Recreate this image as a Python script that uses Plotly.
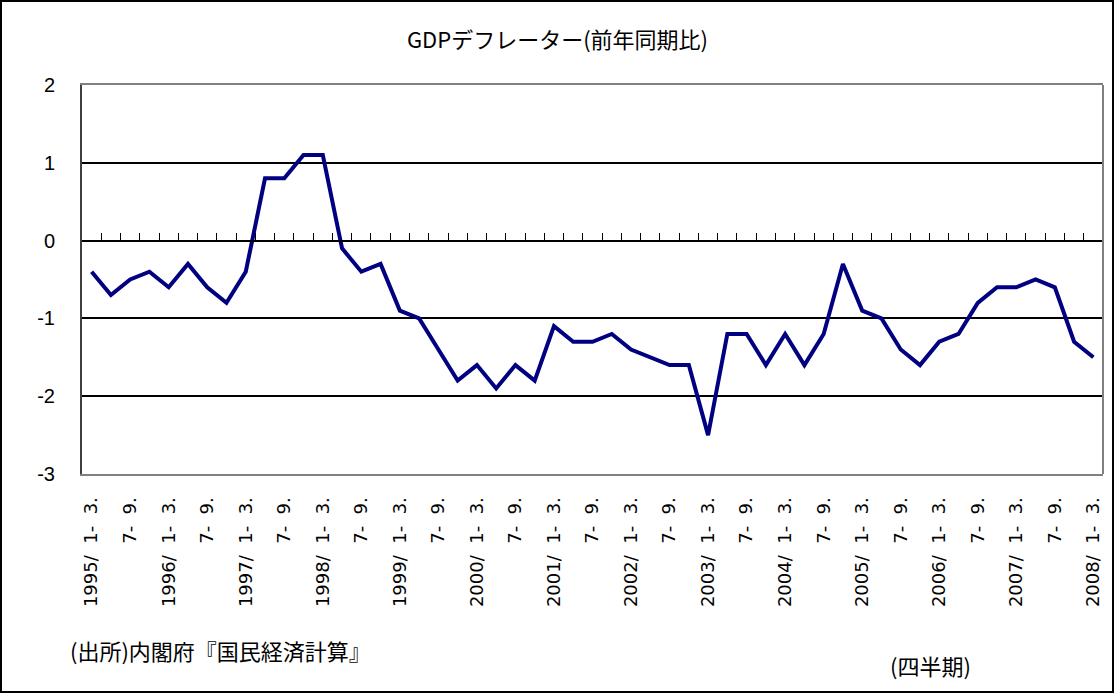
import plotly.graph_objects as go

# ---- data ----
title_text = "GDPデフレーター(前年同期比)"
source_text = "(出所)内閣府『国民経済計算』"
period_text = "(四半期)"

years = list(range(1995, 2009))
deflator = [
    -0.4, -0.7, -0.5, -0.4,   # 1995
    -0.6, -0.3, -0.6, -0.8,   # 1996
    -0.4, 0.8, 0.8, 1.1,      # 1997
    1.1, -0.1, -0.4, -0.3,    # 1998
    -0.9, -1.0, -1.4, -1.8,   # 1999
    -1.6, -1.9, -1.6, -1.8,   # 2000
    -1.1, -1.3, -1.3, -1.2,   # 2001
    -1.4, -1.5, -1.6, -1.6,   # 2002
    -2.5, -1.2, -1.2, -1.6,   # 2003
    -1.2, -1.6, -1.2, -0.3,   # 2004
    -0.9, -1.0, -1.4, -1.6,   # 2005
    -1.3, -1.2, -0.8, -0.6,   # 2006
    -0.6, -0.5, -0.6, -1.3,   # 2007
    -1.5,                     # 2008
]
# tick labels shown every other quarter (Jan-Mar and Jul-Sep)
tick_labels = []
for y in years:
    tick_labels.append(f"{y}/  1-  3.")
    if y != years[-1]:
        tick_labels.append("7-  9.")
y_ticks = [-3, -2, -1, 0, 1, 2]
y_tick_labels = ["-3", "-2", "-1", "0", "1", "2"]

# ---- layout geometry ----
W, H = 1115, 694
ML, MR, MT, MB = 82, 12, 85, 220
PW, PH = W - ML - MR, H - MT - MB

def paper(xpx, ypx):
    return (xpx - ML) / PW, 1 - (ypx - MT) / PH

xs = list(range(len(deflator)))
n = len(deflator)
x_range = [-0.5, n - 0.5]
y_range = [y_ticks[0], y_ticks[-1]]
zero_pos = (0 - y_range[0]) / (y_range[1] - y_range[0])

num_font = "Liberation Sans, Arial, sans-serif"
lab_font = "DejaVu Sans, sans-serif"
jp_font = "Noto Sans CJK JP, sans-serif"

fig = go.Figure()
fig.add_trace(go.Scatter(
    x=xs, y=deflator, mode="lines",
    line=dict(color="#000080", width=4),
    showlegend=False, hoverinfo="x+y",
))
# helper trace so the zero-line tick axis is drawn
fig.add_trace(go.Scatter(
    x=xs, y=deflator, xaxis="x2", mode="lines",
    line=dict(color="rgba(0,0,0,0)", width=0),
    showlegend=False, hoverinfo="skip",
))

fig.update_layout(
    width=W, height=H,
    margin=dict(l=ML, r=MR, t=MT, b=MB),
    paper_bgcolor="white", plot_bgcolor="white",
    title=dict(text=title_text, x=0.5, xanchor="center",
               y=1 - 40 / H, yanchor="middle",
               font=dict(family=jp_font, size=22, color="black")),
    xaxis=dict(
        range=x_range, tickmode="array",
        tickvals=xs[::2], ticktext=tick_labels, tickangle=-90,
        ticks="outside", ticklen=14, tickcolor="rgba(0,0,0,0)",
        tickfont=dict(family=lab_font, size=18, color="black"),
        showgrid=False, zeroline=False,
        showline=True, linecolor="#808080", linewidth=2, mirror=True,
    ),
    xaxis2=dict(
        range=x_range, overlaying="x", anchor="free", position=zero_pos,
        side="top", tickmode="array",
        tickvals=[i + 0.5 for i in xs[:-1]],
        ticks="outside", ticklen=7, tickwidth=1, tickcolor="black",
        showticklabels=False, showgrid=False, zeroline=False,
        showline=True, linecolor="black", linewidth=1.5,
    ),
    yaxis=dict(
        range=y_range, tickmode="array", tickvals=y_ticks,
        ticktext=y_tick_labels,
        ticks="inside", ticklen=7, tickcolor="black",
        tickfont=dict(family=num_font, size=20, color="black"),
        showgrid=True, gridcolor="black", gridwidth=1.5,
        zeroline=False,
        showline=True, linecolor="#404040", linewidth=2, mirror=False,
        ticklabelstandoff=21,
    ),
)

# right plot-area border (gray)
fig.add_shape(type="line", xref="paper", yref="paper", x0=1, x1=1, y0=0, y1=1,
              line=dict(color="#808080", width=2))

# outer chart frame
x0, y0 = paper(1, H - 2)
x1, y1 = paper(W - 2, 1)
fig.add_shape(type="rect", xref="paper", yref="paper",
              x0=x0, y0=y0, x1=x1, y1=y1,
              line=dict(color="black", width=2), layer="above")

sx, sy = paper(68, 650)
fig.add_annotation(text=source_text, xref="paper", yref="paper", x=sx, y=sy,
                   xanchor="left", yanchor="middle", showarrow=False,
                   font=dict(family=jp_font, size=22, color="black"))
px_, py_ = paper(888, 665)
fig.add_annotation(text=period_text, xref="paper", yref="paper", x=px_, y=py_,
                   xanchor="left", yanchor="middle", showarrow=False,
                   font=dict(family=jp_font, size=22, color="black"))

fig.write_html("out.html",
               config={"displayModeBar": False},
               post_script="document.body.style.margin='0px';")
